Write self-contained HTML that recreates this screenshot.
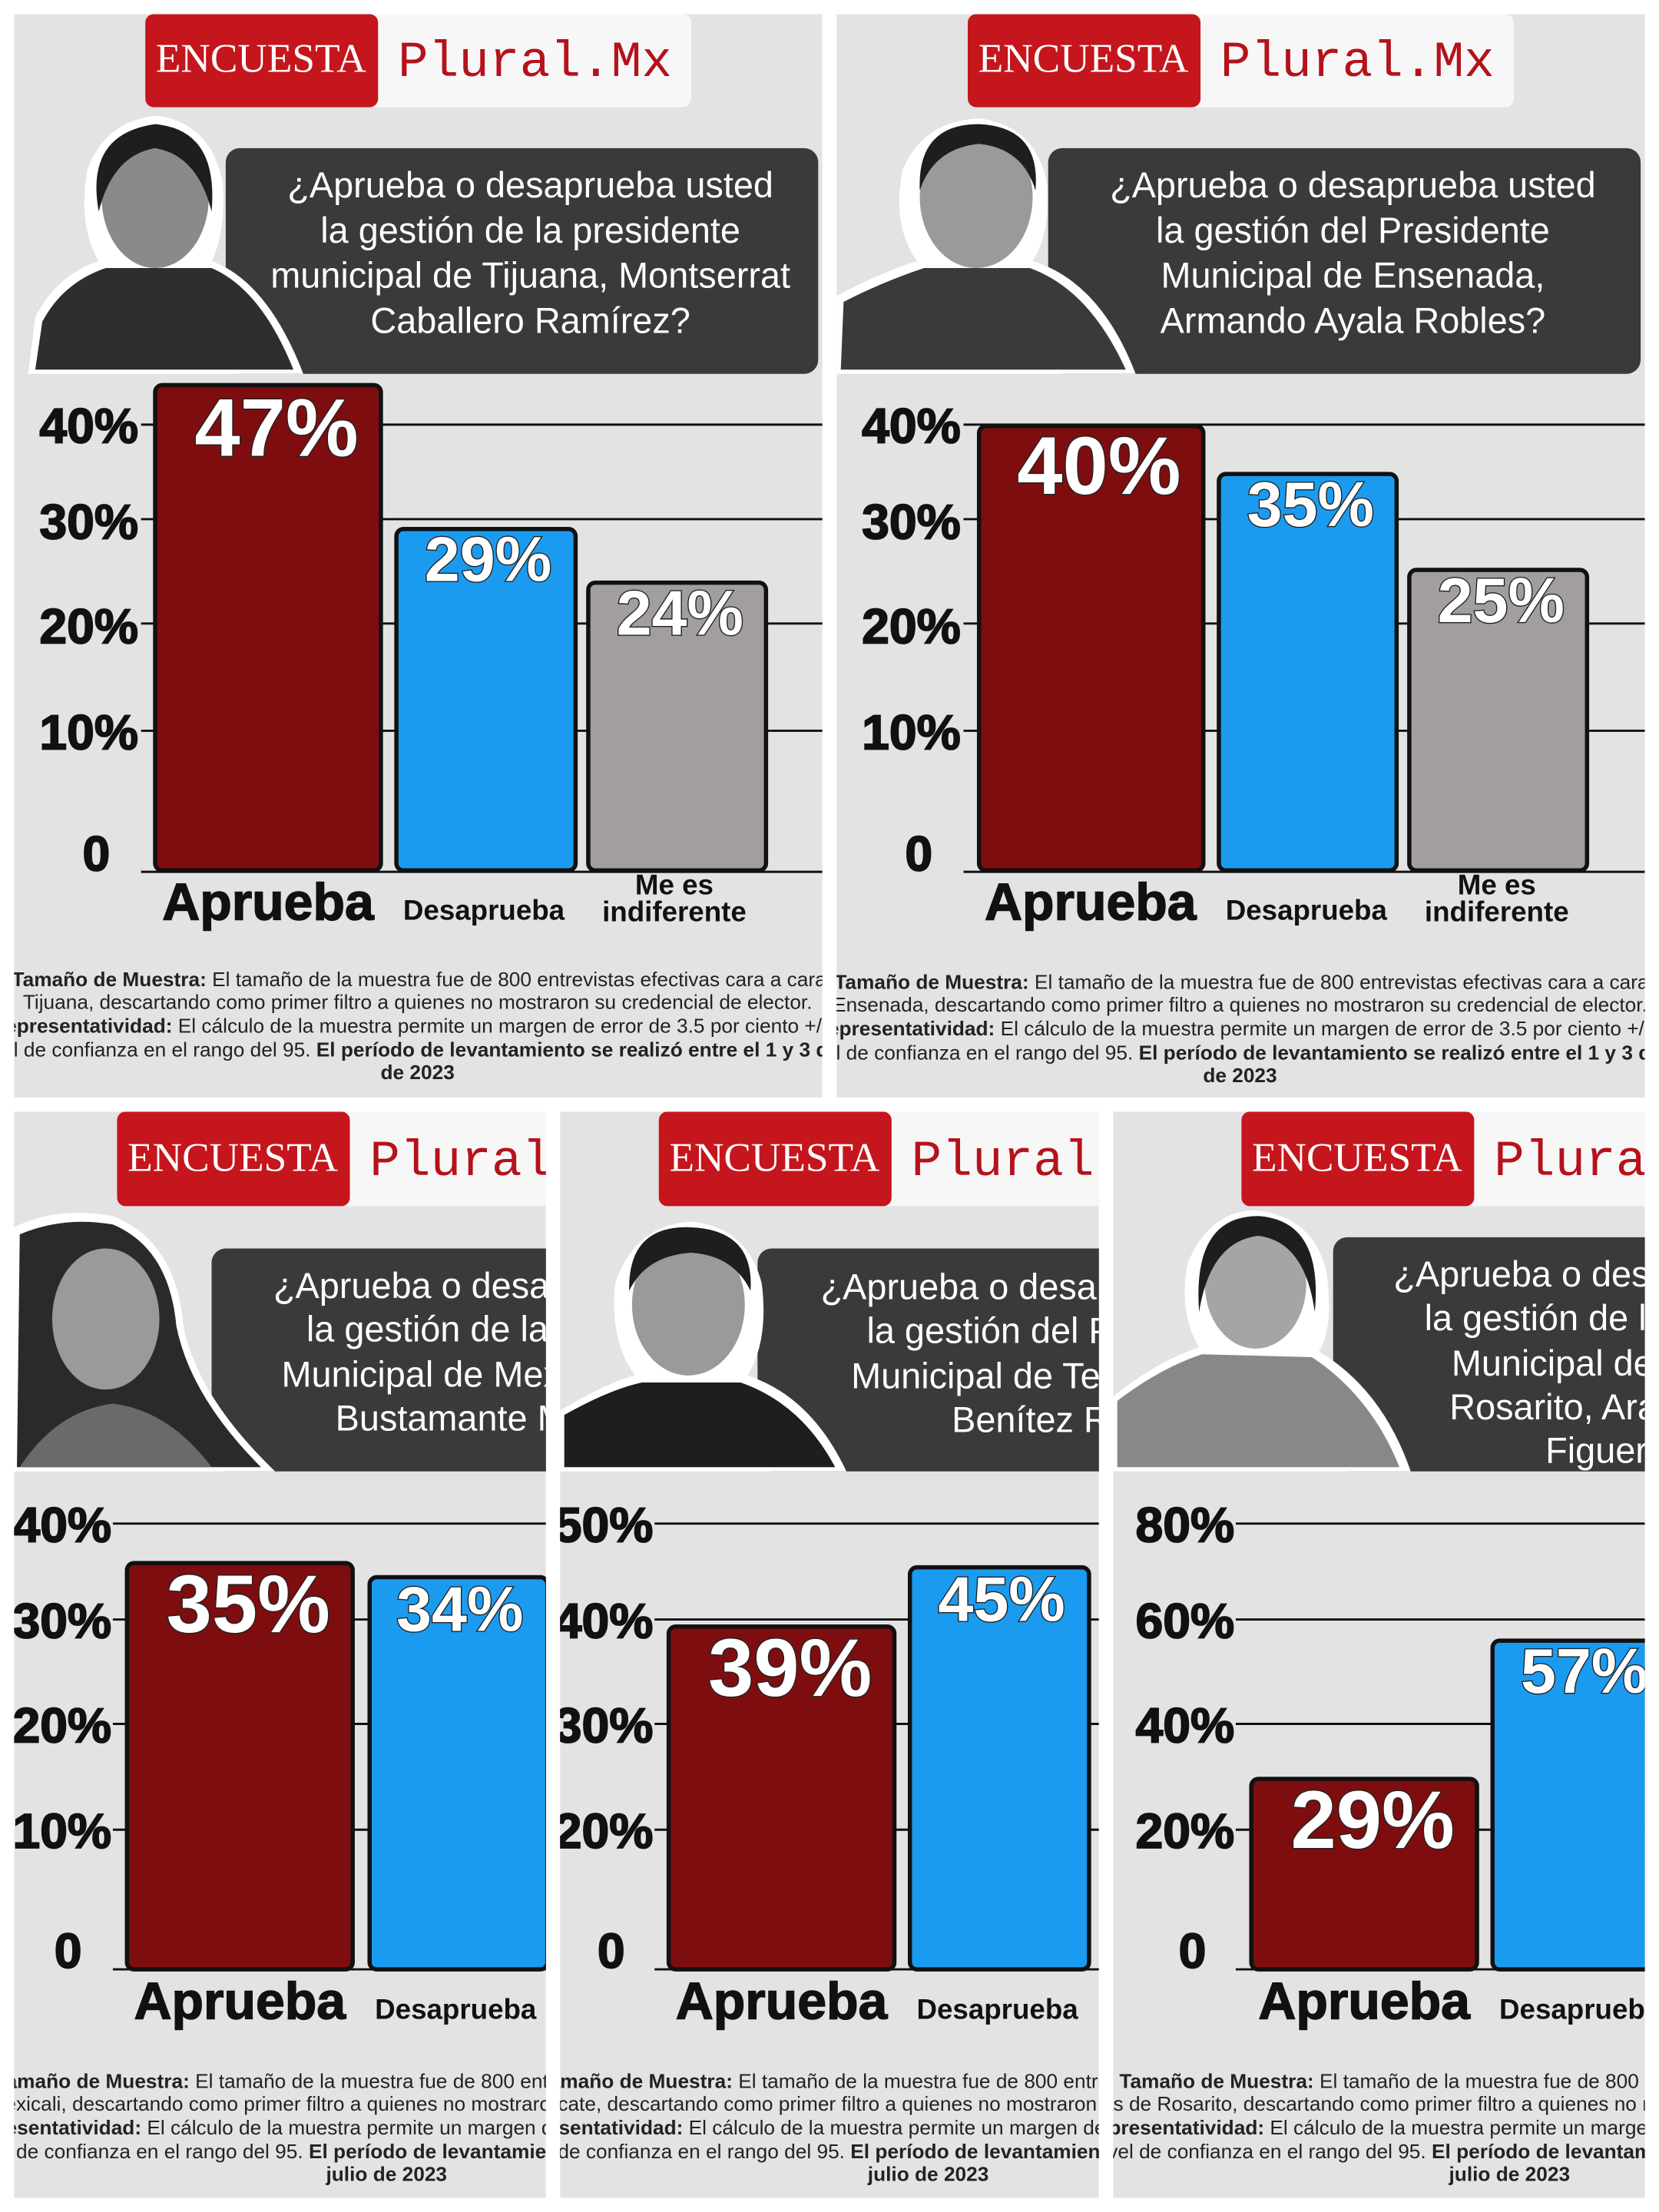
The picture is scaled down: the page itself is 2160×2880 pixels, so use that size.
<!DOCTYPE html>
<html><head><meta charset="utf-8"><style>
html,body{margin:0;padding:0;background:#fff;width:2160px;height:2880px;overflow:hidden}
svg{display:block}
.ax{font-family:"Liberation Sans",sans-serif;font-weight:bold;font-size:35px;fill:#111;stroke:#111;stroke-width:1}
.q{font-family:"Liberation Sans",sans-serif;font-size:25.5px;fill:#fff}
.en{font-family:"Liberation Serif",serif;font-size:29px;fill:#fff}
.pl{font-family:"Liberation Mono",monospace;font-size:36px;fill:#b5121b}
.v{font-family:"Liberation Sans",sans-serif;font-weight:bold;fill:#fff;stroke:#222;stroke-width:1.5;paint-order:stroke}
.ap{font-family:"Liberation Sans",sans-serif;font-weight:bold;font-size:37px;fill:#111;stroke:#111;stroke-width:0.8}
.de{font-family:"Liberation Sans",sans-serif;font-weight:bold;font-size:20px;fill:#111}
.fn{font-family:"Liberation Sans",sans-serif;font-size:14.3px;fill:#222}
.fn tspan.b{font-weight:bold}
.bar{stroke:#111;stroke-width:3}
.g{stroke:#111;stroke-width:1.6}
</style></head><body>
<svg width="2160" height="2880" viewBox="0 0 1176 1568" xmlns="http://www.w3.org/2000/svg">
<defs>
<clipPath id="c1"><rect x="10" y="10" width="573" height="768"/></clipPath>
<clipPath id="c2"><rect x="593" y="10" width="573" height="768"/></clipPath>
<clipPath id="c3"><rect x="10" y="788" width="377" height="770"/></clipPath>
<clipPath id="c4"><rect x="397" y="788" width="382" height="770"/></clipPath>
<clipPath id="c5"><rect x="789" y="788" width="377" height="770"/></clipPath>
</defs>

<!-- PANEL 1 -->
<g clip-path="url(#c1)">
<rect x="10" y="10" width="573" height="768" fill="#e3e3e3"/>
<rect x="103" y="10" width="387" height="66" rx="6" fill="#f7f7f7"/>
<rect x="103" y="10" width="165" height="66" rx="6" fill="#c4161c"/>
<text class="en" x="185" y="51" text-anchor="middle">ENCUESTA</text>
<text class="pl" x="282" y="54">Plural.Mx</text>
<rect x="160" y="105" width="420" height="160" rx="10" fill="#3a3a3a"/>
<path d="M20 265 L25 225 Q40 195 70 185 Q55 160 62 120 Q75 85 112 82 Q150 88 158 130 Q160 165 150 185 Q190 200 215 265 Z" fill="#fff"/>
<path d="M25 262 L30 228 Q45 200 75 190 L150 190 Q185 205 208 262 Z" fill="#2e2e2e"/>
<ellipse cx="110" cy="140" rx="38" ry="50" fill="#8a8a8a"/>
<path d="M70 150 Q60 95 110 88 Q155 92 150 150 Q140 110 110 105 Q80 110 70 150Z" fill="#1e1e1e"/>
<text class="q" text-anchor="middle"><tspan x="376" y="140">¿Aprueba o desaprueba usted</tspan><tspan x="376" y="172">la gestión de la presidente</tspan><tspan x="376" y="204">municipal de Tijuana, Montserrat</tspan><tspan x="376" y="236">Caballero Ramírez?</tspan></text>
<g class="g"><line x1="100" y1="301" x2="583" y2="301"/><line x1="100" y1="368" x2="583" y2="368"/><line x1="100" y1="442" x2="583" y2="442"/><line x1="100" y1="518" x2="583" y2="518"/><line x1="100" y1="618" x2="583" y2="618"/></g>
<text class="ax" text-anchor="end"><tspan x="98" y="314">40%</tspan><tspan x="98" y="382">30%</tspan><tspan x="98" y="456">20%</tspan><tspan x="98" y="531">10%</tspan><tspan x="78" y="617">0</tspan></text>
<rect class="bar" x="110" y="273" width="160" height="344" rx="5" fill="#7e0d0f"/>
<rect class="bar" x="281" y="375" width="127" height="242" rx="5" fill="#1b9bf0"/>
<rect class="bar" x="417" y="413" width="126" height="204" rx="5" fill="#a19e9d"/>
<text class="v" x="196" y="323" font-size="58" text-anchor="middle">47%</text>
<text class="v" x="346" y="412" font-size="45" text-anchor="middle">29%</text>
<text class="v" x="482" y="450" font-size="45" text-anchor="middle">24%</text>
<text class="ap" x="190" y="652" text-anchor="middle">Aprueba</text>
<text class="de" x="343" y="652" text-anchor="middle">Desaprueba</text>
<text class="de" x="478" y="634" text-anchor="middle" font-size="16">Me es</text>
<text class="de" x="478" y="653" text-anchor="middle" font-size="17">indiferente</text>
<text class="fn" text-anchor="middle"><tspan x="307" y="699"><tspan class="b">Tamaño de Muestra:</tspan> El tamaño de la muestra fue de 800 entrevistas efectivas cara a cara en</tspan><tspan x="296" y="715">Tijuana, descartando como primer filtro a quienes no mostraron su credencial de elector.</tspan><tspan x="296" y="732"><tspan class="b">Representatividad:</tspan> El cálculo de la muestra permite un margen de error de 3.5 por ciento +/- y</tspan><tspan x="296" y="749">un nivel de confianza en el rango del 95. <tspan class="b">El período de levantamiento se realizó entre el 1 y 3 de julio</tspan></tspan><tspan x="296" y="765" font-weight="bold">de 2023</tspan></text>
</g>

<!-- PANEL 2 -->
<g clip-path="url(#c2)">
<rect x="593" y="10" width="573" height="768" fill="#e3e3e3"/>
<rect x="686" y="10" width="387" height="66" rx="6" fill="#f7f7f7"/>
<rect x="686" y="10" width="165" height="66" rx="6" fill="#c4161c"/>
<text class="en" x="768" y="51" text-anchor="middle">ENCUESTA</text>
<text class="pl" x="865" y="54">Plural.Mx</text>
<rect x="743" y="105" width="420" height="160" rx="10" fill="#3a3a3a"/>
<path d="M593 265 L593 210 Q620 195 650 185 Q632 160 640 120 Q655 85 695 84 Q735 90 742 130 Q745 165 732 185 Q780 200 805 265 Z" fill="#fff"/>
<path d="M596 262 L598 214 Q625 200 655 190 L730 190 Q772 205 798 262 Z" fill="#3a3a3a"/>
<ellipse cx="692" cy="140" rx="40" ry="50" fill="#9a9a9a"/>
<path d="M652 135 Q650 88 694 88 Q738 90 734 135 Q725 105 694 102 Q662 105 652 135Z" fill="#1e1e1e"/>
<text class="q" text-anchor="middle"><tspan x="959" y="140">¿Aprueba o desaprueba usted</tspan><tspan x="959" y="172">la gestión del Presidente</tspan><tspan x="959" y="204">Municipal de Ensenada,</tspan><tspan x="959" y="236">Armando Ayala Robles?</tspan></text>
<g class="g"><line x1="683" y1="301" x2="1166" y2="301"/><line x1="683" y1="368" x2="1166" y2="368"/><line x1="683" y1="442" x2="1166" y2="442"/><line x1="683" y1="518" x2="1166" y2="518"/><line x1="683" y1="618" x2="1166" y2="618"/></g>
<text class="ax" text-anchor="end"><tspan x="681" y="314">40%</tspan><tspan x="681" y="382">30%</tspan><tspan x="681" y="456">20%</tspan><tspan x="681" y="531">10%</tspan><tspan x="661" y="617">0</tspan></text>
<rect class="bar" x="694" y="302" width="159" height="315" rx="5" fill="#7e0d0f"/>
<rect class="bar" x="864" y="336" width="126" height="281" rx="5" fill="#1b9bf0"/>
<rect class="bar" x="999" y="404" width="126" height="213" rx="5" fill="#a19e9d"/>
<text class="v" x="779" y="350" font-size="58" text-anchor="middle">40%</text>
<text class="v" x="929" y="373" font-size="45" text-anchor="middle">35%</text>
<text class="v" x="1064" y="441" font-size="45" text-anchor="middle">25%</text>
<text class="ap" x="773" y="652" text-anchor="middle">Aprueba</text>
<text class="de" x="926" y="652" text-anchor="middle">Desaprueba</text>
<text class="de" x="1061" y="634" text-anchor="middle" font-size="16">Me es</text>
<text class="de" x="1061" y="653" text-anchor="middle" font-size="17">indiferente</text>
<text class="fn" text-anchor="middle"><tspan x="890" y="701"><tspan class="b">Tamaño de Muestra:</tspan> El tamaño de la muestra fue de 800 entrevistas efectivas cara a cara en</tspan><tspan x="879" y="717">Ensenada, descartando como primer filtro a quienes no mostraron su credencial de elector.</tspan><tspan x="879" y="734"><tspan class="b">Representatividad:</tspan> El cálculo de la muestra permite un margen de error de 3.5 por ciento +/- y</tspan><tspan x="879" y="751">un nivel de confianza en el rango del 95. <tspan class="b">El período de levantamiento se realizó entre el 1 y 3 de julio</tspan></tspan><tspan x="879" y="767" font-weight="bold">de 2023</tspan></text>
</g>

<!-- PANEL 3 -->
<g clip-path="url(#c3)">
<rect x="10" y="788" width="377" height="770" fill="#e3e3e3"/>
<rect x="83" y="788" width="387" height="67" rx="6" fill="#f7f7f7"/>
<rect x="83" y="788" width="165" height="67" rx="6" fill="#c4161c"/>
<text class="en" x="165" y="830" text-anchor="middle">ENCUESTA</text>
<text class="pl" x="262" y="833">Plural.Mx</text>
<rect x="150" y="885" width="420" height="158" rx="10" fill="#3a3a3a"/>
<path d="M10 1043 L10 870 Q40 855 80 862 Q125 880 130 940 Q140 990 195 1043 Z" fill="#fff"/>
<path d="M12 1040 L14 875 Q45 862 80 868 Q120 885 125 940 Q135 990 185 1040 Z" fill="#2a2a2a"/>
<ellipse cx="75" cy="935" rx="38" ry="50" fill="#9a9a9a"/>
<path d="M14 1040 Q40 1000 80 995 Q120 1000 150 1040Z" fill="#6a6a6a"/>
<text class="q" text-anchor="middle"><tspan x="366" y="920">¿Aprueba o desaprueba usted</tspan><tspan x="366" y="951">la gestión de la presidente</tspan><tspan x="366" y="983">Municipal de Mexicali, Norma</tspan><tspan x="366" y="1014">Bustamante Martínez?</tspan></text>
<g class="g"><line x1="80" y1="1080" x2="387" y2="1080"/><line x1="80" y1="1148" x2="387" y2="1148"/><line x1="80" y1="1222" x2="387" y2="1222"/><line x1="80" y1="1297" x2="387" y2="1297"/><line x1="80" y1="1396" x2="387" y2="1396"/></g>
<text class="ax" text-anchor="end"><tspan x="79" y="1093">40%</tspan><tspan x="79" y="1161">30%</tspan><tspan x="79" y="1235">20%</tspan><tspan x="79" y="1310">10%</tspan><tspan x="58" y="1395">0</tspan></text>
<rect class="bar" x="90" y="1108" width="160" height="288" rx="5" fill="#7e0d0f"/>
<rect class="bar" x="262" y="1118" width="126" height="278" rx="5" fill="#1b9bf0"/>
<text class="v" x="176" y="1157" font-size="58" text-anchor="middle">35%</text>
<text class="v" x="326" y="1156" font-size="45" text-anchor="middle">34%</text>
<text class="ap" x="170" y="1431" text-anchor="middle">Aprueba</text>
<text class="de" x="323" y="1431" text-anchor="middle">Desaprueba</text>
<text class="fn" text-anchor="middle"><tspan x="295" y="1480"><tspan class="b">Tamaño de Muestra:</tspan> El tamaño de la muestra fue de 800 entrevistas efectivas cara a cara en</tspan><tspan x="274" y="1496">Mexicali, descartando como primer filtro a quienes no mostraron su credencial de elector.</tspan><tspan x="274" y="1513"><tspan class="b">Representatividad:</tspan> El cálculo de la muestra permite un margen de error de 3.5 por ciento +/- y</tspan><tspan x="274" y="1530">un nivel de confianza en el rango del 95. <tspan class="b">El período de levantamiento se realizó entre el 1 y 3 de</tspan></tspan><tspan x="274" y="1546" font-weight="bold">julio de 2023</tspan></text>
</g>

<!-- PANEL 4 -->
<g clip-path="url(#c4)">
<rect x="397" y="788" width="382" height="770" fill="#e3e3e3"/>
<rect x="467" y="788" width="387" height="67" rx="6" fill="#f7f7f7"/>
<rect x="467" y="788" width="165" height="67" rx="6" fill="#c4161c"/>
<text class="en" x="549" y="830" text-anchor="middle">ENCUESTA</text>
<text class="pl" x="646" y="833">Plural.Mx</text>
<rect x="537" y="885" width="420" height="158" rx="10" fill="#3a3a3a"/>
<path d="M397 1043 L397 1000 Q430 980 450 975 Q432 950 436 910 Q450 868 490 866 Q530 870 540 910 Q545 950 530 975 Q575 990 600 1043 Z" fill="#fff"/>
<path d="M400 1040 L400 1003 Q432 985 455 980 L525 980 Q568 995 592 1040 Z" fill="#1e1e1e"/>
<ellipse cx="488" cy="925" rx="40" ry="50" fill="#9a9a9a"/>
<path d="M446 915 Q445 868 490 870 Q535 872 532 915 Q520 890 490 888 Q458 890 446 915Z" fill="#1e1e1e"/>
<text class="q" text-anchor="middle"><tspan x="754" y="921">¿Aprueba o desaprueba usted</tspan><tspan x="754" y="952">la gestión del Presidente</tspan><tspan x="754" y="984">Municipal de Tecate, Darío</tspan><tspan x="754" y="1015">Benítez Ruiz?</tspan></text>
<g class="g"><line x1="464" y1="1080" x2="779" y2="1080"/><line x1="464" y1="1148" x2="779" y2="1148"/><line x1="464" y1="1222" x2="779" y2="1222"/><line x1="464" y1="1297" x2="779" y2="1297"/><line x1="464" y1="1396" x2="779" y2="1396"/></g>
<text class="ax" text-anchor="end"><tspan x="463" y="1093">50%</tspan><tspan x="463" y="1161">40%</tspan><tspan x="463" y="1235">30%</tspan><tspan x="463" y="1310">20%</tspan><tspan x="443" y="1395">0</tspan></text>
<rect class="bar" x="474" y="1153" width="160" height="243" rx="5" fill="#7e0d0f"/>
<rect class="bar" x="645" y="1111" width="127" height="285" rx="5" fill="#1b9bf0"/>
<text class="v" x="560" y="1202" font-size="58" text-anchor="middle">39%</text>
<text class="v" x="710" y="1149" font-size="45" text-anchor="middle">45%</text>
<text class="ap" x="554" y="1431" text-anchor="middle">Aprueba</text>
<text class="de" x="707" y="1431" text-anchor="middle">Desaprueba</text>
<text class="fn" text-anchor="middle"><tspan x="680" y="1480"><tspan class="b">Tamaño de Muestra:</tspan> El tamaño de la muestra fue de 800 entrevistas efectivas cara a cara en</tspan><tspan x="658" y="1496">Tecate, descartando como primer filtro a quienes no mostraron su credencial de elector.</tspan><tspan x="658" y="1513"><tspan class="b">Representatividad:</tspan> El cálculo de la muestra permite un margen de error de 3.5 por ciento +/- y</tspan><tspan x="658" y="1530">un nivel de confianza en el rango del 95. <tspan class="b">El período de levantamiento se realizó entre el 1 y 3 de</tspan></tspan><tspan x="658" y="1546" font-weight="bold">julio de 2023</tspan></text>
</g>

<!-- PANEL 5 -->
<g clip-path="url(#c5)">
<rect x="789" y="788" width="377" height="770" fill="#e3e3e3"/>
<rect x="880" y="788" width="387" height="67" rx="6" fill="#f7f7f7"/>
<rect x="880" y="788" width="165" height="67" rx="6" fill="#c4161c"/>
<text class="en" x="962" y="830" text-anchor="middle">ENCUESTA</text>
<text class="pl" x="1059" y="833">Plural.Mx</text>
<rect x="945" y="877" width="420" height="166" rx="10" fill="#3a3a3a"/>
<path d="M789 1043 L789 990 Q820 965 850 955 Q835 930 842 895 Q858 858 890 858 Q930 862 940 900 Q946 940 935 958 Q980 985 1000 1043 Z" fill="#fff"/>
<path d="M792 1040 L792 993 Q822 970 852 960 L930 962 Q972 990 992 1040 Z" fill="#888"/>
<ellipse cx="890" cy="910" rx="36" ry="46" fill="#a5a5a5"/>
<path d="M850 930 Q845 862 892 862 Q938 865 932 930 Q925 880 892 876 Q858 880 850 930Z" fill="#1e1e1e"/>
<text class="q" text-anchor="middle"><tspan x="1160" y="912">¿Aprueba o desaprueba usted</tspan><tspan x="1160" y="943">la gestión de la Presidenta</tspan><tspan x="1160" y="975">Municipal de Playas de</tspan><tspan x="1160" y="1006">Rosarito, Araceli Brown</tspan><tspan x="1160" y="1037">Figueredo?</tspan></text>
<g class="g"><line x1="876" y1="1080" x2="1166" y2="1080"/><line x1="876" y1="1148" x2="1166" y2="1148"/><line x1="876" y1="1222" x2="1166" y2="1222"/><line x1="876" y1="1297" x2="1166" y2="1297"/><line x1="876" y1="1396" x2="1166" y2="1396"/></g>
<text class="ax" text-anchor="end"><tspan x="875" y="1093">80%</tspan><tspan x="875" y="1161">60%</tspan><tspan x="875" y="1235">40%</tspan><tspan x="875" y="1310">20%</tspan><tspan x="855" y="1395">0</tspan></text>
<rect class="bar" x="887" y="1261" width="160" height="135" rx="5" fill="#7e0d0f"/>
<rect class="bar" x="1058" y="1163" width="127" height="233" rx="5" fill="#1b9bf0"/>
<text class="v" x="973" y="1310" font-size="58" text-anchor="middle">29%</text>
<text class="v" x="1123" y="1200" font-size="45" text-anchor="middle">57%</text>
<text class="ap" x="967" y="1431" text-anchor="middle">Aprueba</text>
<text class="de" x="1120" y="1431" text-anchor="middle">Desaprueba</text>
<text class="fn" text-anchor="middle"><tspan x="1092" y="1480"><tspan class="b">Tamaño de Muestra:</tspan> El tamaño de la muestra fue de 800 entrevistas efectivas cara a cara en</tspan><tspan x="1070" y="1496">Playas de Rosarito, descartando como primer filtro a quienes no mostraron su credencial de elector.</tspan><tspan x="1070" y="1513"><tspan class="b">Representatividad:</tspan> El cálculo de la muestra permite un margen de error de 3.5 por ciento +/- y</tspan><tspan x="1070" y="1530">un nivel de confianza en el rango del 95. <tspan class="b">El período de levantamiento se realizó entre el 1 y 3 de</tspan></tspan><tspan x="1070" y="1546" font-weight="bold">julio de 2023</tspan></text>
</g>
</svg>
</body></html>
